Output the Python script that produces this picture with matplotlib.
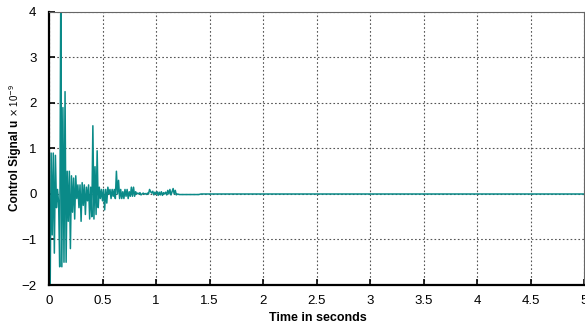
import numpy as np
import matplotlib
matplotlib.use("Agg")
import matplotlib.pyplot as plt

plt.rcParams['font.family'] = ['Liberation Sans', 'DejaVu Sans']

# sampled control signal (x 1e-9), step 0.01 s from 0 to 1.20 s
u_early = [
    0.0, -2.4, 0.9, -0.9, 0.9, -1.3, 0.85, -0.3, 0.1, -0.2,
    -1.6, 4.5, -1.6, 1.9, -1.5, 2.25, -1.5, 0.5, -0.6, 0.5,
    -1.2, 0.4, -0.4, 0.35, -0.55, 0.4, -0.1, 0.2, -0.3, 0.2,
    -0.6, 0.25, -0.25, 0.2, -0.45, 0.15, -0.15, 0.2, -0.55, 0.15,
    -0.5, 1.5, -0.55, 0.6, -0.45, 0.95, -0.3, 0.15, -0.1, 0.1,
    -0.15, 0.1, -0.35, 0.1, -0.2, 0.15, 0.0, 0.1, -0.1, 0.1,
    -0.05, 0.1, -0.1, 0.5, 0.0, 0.3, -0.1, 0.1, -0.1, 0.05,
    -0.1, 0.1, -0.05, 0.1, -0.1, 0.05, -0.05, 0.15, -0.05, 0.15,
    -0.05, 0.05, 0.0, 0.02, 0.0, 0.03, -0.02, 0.0, 0.02, 0.0,
    0.01, -0.01, 0.02, 0.0, 0.1, 0.05, 0.02, 0.06, -0.02, 0.04,
    0.0, 0.05, -0.03, 0.04, -0.02, 0.05, -0.03, 0.03, 0.0, 0.04,
    -0.02, 0.08, 0.0, 0.1, -0.02, 0.05, 0.12, 0.0, 0.08, -0.02,
    0.0,
]
t_early = np.arange(len(u_early)) * 0.01

# settled tail
t_tail = [1.22, 1.40, 1.42, 5.0]
u_tail = [-0.012, -0.012, 0.0, 0.0]

t = np.concatenate([t_early, t_tail])
u = np.concatenate([u_early, u_tail])

x_ticks = [0, 0.5, 1, 1.5, 2, 2.5, 3, 3.5, 4, 4.5, 5]
x_labels = ['0', '0.5', '1', '1.5', '2', '2.5', '3', '3.5', '4', '4.5', '5']
y_ticks = [-2, -1, 0, 1, 2, 3, 4]

W, H = 585, 326
fig = plt.figure(figsize=(W / 100, H / 100), dpi=100)
ax = fig.add_axes([49 / W, 1 - 285 / H, (584 - 49) / W, (285 - 12) / H])

ax.plot(t, u, color='#0a8a88', lw=1.1)
ax.set_xlim(0, 5)
ax.set_ylim(-2, 4)
ax.set_xticks(x_ticks)
ax.set_xticklabels(x_labels)
ax.set_yticks(y_ticks)
ax.tick_params(direction='in', length=4, width=1.2, labelsize=9.5)
ax.tick_params(axis='x', pad=7)
ax.tick_params(axis='y', pad=9)
ax.grid(True, color='#555555', linestyle=(0, (1.5, 2)), linewidth=0.8)
for s in ['left', 'bottom']:
    ax.spines[s].set_linewidth(1.6)
for s in ['top', 'right']:
    ax.spines[s].set_linewidth(0.8)
    ax.spines[s].set_color('#666666')

fig.text(318 / W, 1 - 318 / H, 'Time in seconds', ha='center', va='center',
         fontsize=9, fontweight='bold')
fig.text(15 / W, 1 - 165 / H, 'Control Signal u', rotation=90, ha='center',
         va='center', fontsize=8.5, fontweight='bold')
fig.text(14 / W, 1 - 117 / H, r'$\times$ 10$^{-9}$', rotation=90, ha='center',
         va='bottom', fontsize=7)

fig.savefig('out.png', dpi=100)
